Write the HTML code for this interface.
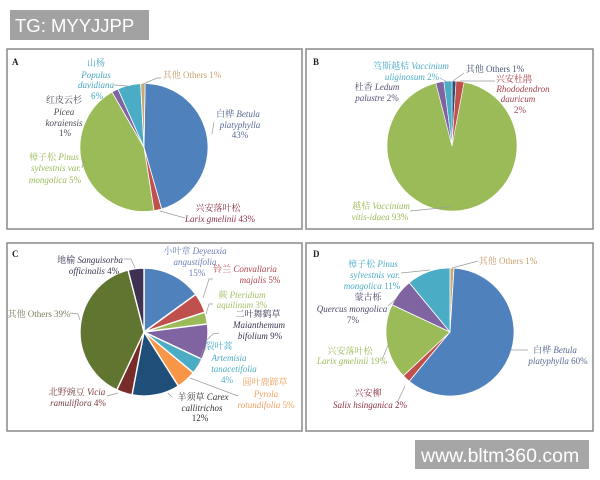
<!DOCTYPE html>
<html><head><meta charset="utf-8"><style>
html,body{margin:0;padding:0;background:#fff;}
svg{display:block;}
text{font-family:"Liberation Serif","Noto Serif CJK SC","Noto Sans CJK SC",serif;font-size:9px;}
.i{font-style:italic;}
.b{font-weight:bold;fill:#222;}
.wm{font-family:"Liberation Sans",sans-serif;fill:#fff;}
</style></head><body>
<svg width="600" height="480" viewBox="0 0 600 480" xmlns="http://www.w3.org/2000/svg">
<rect width="600" height="480" fill="#fff"/>
<!-- watermark top -->
<rect x="10" y="10" width="139" height="30" fill="#a2a2a2"/>
<text class="wm" x="15" y="32" style="font-size:18.5px">TG: MYYJJPP</text>

<!-- panel borders -->
<g fill="none" stroke="#8a8a8a" stroke-width="1.5">
<rect x="7" y="49" width="295" height="180"/>
<rect x="306" y="49" width="287" height="180"/>
<rect x="7" y="243" width="295" height="188"/>
<rect x="306" y="243" width="287" height="188"/>
</g>

<!-- Pie A -->
<g stroke="#fff" stroke-width="0.8">
<path d="M144,147.5 L145.12,83.51 A64,64 0 0 1 161.64,209.02 Z" fill="#4f81bd"/>
<path d="M144,147.5 L161.64,209.02 A64,64 0 0 1 154.01,210.71 Z" fill="#c0504d"/>
<path d="M144,147.5 L154.01,210.71 A64,64 0 0 1 112,92.07 Z" fill="#9bbb59"/>
<path d="M144,147.5 L112,92.07 A64,64 0 0 1 117.97,89.03 Z" fill="#8064a2"/>
<path d="M144,147.5 L117.97,89.03 A64,64 0 0 1 140.65,83.59 Z" fill="#4bacc6"/>
<path d="M144,147.5 L140.65,83.59 A64,64 0 0 1 145.12,83.51 Z" fill="#c9a878"/>
</g>
<g fill="none" stroke="#9a9a9a" stroke-width="0.7">
<polyline points="143,84 157,78 161,78"/>
<polyline points="114,85 128,86"/>
<polyline points="160,211 185,218"/>
<polyline points="82,168 84,160"/>
<polyline points="214,122 212,134"/>
</g>
<text class="b" x="12" y="65">A</text>
<g text-anchor="middle">
<text fill="#46a5c0"><tspan x="96" y="66">山杨</tspan><tspan class="i" x="96" y="78">Populus</tspan><tspan class="i" x="96" y="88">davidiana</tspan><tspan x="97" y="99">6%</tspan></text>
<text fill="#c9a272" x="192" y="78">其他 Others 1%</text>
<text fill="#4a4a58"><tspan x="64" y="103">红皮云杉</tspan><tspan class="i" x="64" y="115">Picea</tspan><tspan class="i" x="64" y="126">koraiensis</tspan><tspan x="65" y="136">1%</tspan></text>
<text fill="#5a6a94"><tspan x="238" y="117">白桦 <tspan class="i">Betula</tspan></tspan><tspan class="i" x="240" y="128">platyphylla</tspan><tspan x="240" y="138">43%</tspan></text>
<text fill="#9bbb59"><tspan x="54" y="160">樟子松 <tspan class="i">Pinus</tspan></tspan><tspan class="i" x="56" y="171">sylvestnis var.</tspan><tspan x="55" y="183"><tspan class="i">mongolica</tspan> 5%</tspan></text>
<text fill="#8c3045"><tspan x="218" y="211">兴安落叶松</tspan><tspan x="220" y="222"><tspan class="i">Larix gmelinii</tspan> 43%</tspan></text>
</g>

<!-- Pie B -->
<g stroke="#fff" stroke-width="0.6">
<path d="M452,146 L452,81 A65,65 0 0 1 456.08,81.13 Z" fill="#2c4d75"/>
<path d="M452,146 L456.08,81.13 A65,65 0 0 1 464.18,82.15 Z" fill="#c0504d"/>
<path d="M452,146 L464.18,82.15 A65,65 0 1 1 435.84,83.04 Z" fill="#9bbb59"/>
<path d="M452,146 L435.84,83.04 A65,65 0 0 1 443.85,81.51 Z" fill="#8064a2"/>
<path d="M452,146 L443.85,81.51 A65,65 0 0 1 452,81 Z" fill="#4bacc6"/>
</g>
<g fill="none" stroke="#9a9a9a" stroke-width="0.7">
<polyline points="440,78 447,82"/>
<polyline points="453,81 464,73"/>
<polyline points="460,81 495,81"/>
<polyline points="410,211 450,207"/>
</g>
<text class="b" x="313" y="65">B</text>
<g text-anchor="middle">
<text fill="#4bacc6"><tspan x="411" y="69">笃斯越桔 <tspan class="i">Vaccinium</tspan></tspan><tspan x="412" y="80"><tspan class="i">uliginosum</tspan> 2%</tspan></text>
<text fill="#4a5a7a" x="495" y="72">其他 Others 1%</text>
<text fill="#a6404e"><tspan x="514" y="82">兴安杜鹃</tspan><tspan class="i" x="523" y="92">Rhododendron</tspan><tspan class="i" x="518" y="102">dauricum</tspan><tspan x="520" y="113">2%</tspan></text>
<text fill="#5a4f78"><tspan x="377" y="90">杜香 <tspan class="i">Ledum</tspan></tspan><tspan x="377" y="101"><tspan class="i">palustre</tspan> 2%</tspan></text>
<text fill="#9bbb59"><tspan x="381" y="209">越桔 <tspan class="i">Vaccinium</tspan></tspan><tspan x="380" y="220"><tspan class="i">vitis-idaea</tspan> 93%</tspan></text>
</g>

<!-- Pie C -->
<g stroke="#fff" stroke-width="1.4">
<path d="M144,332 L144,268 A64,64 0 0 1 195.78,294.38 Z" fill="#4f81bd"/>
<path d="M144,332 L195.78,294.38 A64,64 0 0 1 204.87,312.22 Z" fill="#c0504d"/>
<path d="M144,332 L204.87,312.22 A64,64 0 0 1 207.50,323.98 Z" fill="#9bbb59"/>
<path d="M144,332 L207.50,323.98 A64,64 0 0 1 201.91,359.25 Z" fill="#8064a2"/>
<path d="M144,332 L201.91,359.25 A64,64 0 0 1 193.31,372.79 Z" fill="#4bacc6"/>
<path d="M144,332 L193.31,372.79 A64,64 0 0 1 178.29,386.04 Z" fill="#f79646"/>
<path d="M144,332 L178.29,386.04 A64,64 0 0 1 132.01,394.87 Z" fill="#1f4e79"/>
<path d="M144,332 L132.01,394.87 A64,64 0 0 1 116.75,389.91 Z" fill="#772c2a"/>
<path d="M144,332 L116.75,389.91 A64,64 0 0 1 128.08,270.01 Z" fill="#5f7530"/>
<path d="M144,332 L128.08,270.01 A64,64 0 0 1 144,268 Z" fill="#3f3151"/>
</g>
<g fill="none" stroke="#9a9a9a" stroke-width="0.7">
<polyline points="124,259 131,259 135,268"/>
<polyline points="70,313 78,314 80,320"/>
<polyline points="107,396 118,393"/>
<polyline points="203,298 209,279 213,279"/>
<polyline points="206,314 209,304 213,304"/>
<polyline points="207,340 213,334 219,333"/>
<polyline points="198,365 203,350 206,349"/>
<polyline points="190,378 238,396"/>
<polyline points="168,393 172,397"/>
</g>
<text class="b" x="12" y="257">C</text>
<g text-anchor="middle">
<text fill="#3c3550"><tspan x="90" y="263">地榆 <tspan class="i">Sanguisorba</tspan></tspan><tspan x="94" y="274"><tspan class="i">officinalis</tspan> 4%</tspan></text>
<text fill="#6b7fb5"><tspan x="195" y="254">小叶章 <tspan class="i">Deyeuxia</tspan></tspan><tspan class="i" x="195" y="265">angustifolia</tspan><tspan x="197" y="276">15%</tspan></text>
<text fill="#b0454f"><tspan x="245" y="272">铃兰 <tspan class="i">Convallaria</tspan></tspan><tspan x="260" y="283"><tspan class="i">majalis</tspan> 5%</tspan></text>
<text fill="#a5c068"><tspan x="242" y="298">蕨 <tspan class="i">Pteridium</tspan></tspan><tspan x="242" y="308"><tspan class="i">aquilinum</tspan> 3%</tspan></text>
<text fill="#3a3550"><tspan x="258" y="317">二叶舞鹤草</tspan><tspan class="i" x="259" y="328">Maianthemum</tspan><tspan x="260" y="339"><tspan class="i">bifolium</tspan> 9%</tspan></text>
<text fill="#4bacc6"><tspan x="219" y="349">裂叶蒿</tspan><tspan class="i" x="229" y="361">Artemisia</tspan><tspan class="i" x="234" y="372">tanacetifolia</tspan><tspan x="227" y="383">4%</tspan></text>
<text fill="#f0a060"><tspan x="265" y="385">圆叶鹿蹄草</tspan><tspan class="i" x="266" y="397">Pyrola</tspan><tspan x="266" y="408"><tspan class="i">rotundifolia</tspan> 5%</tspan></text>
<text fill="#333"><tspan x="203" y="400">羊须草 <tspan class="i">Carex</tspan></tspan><tspan class="i" x="202" y="411">callitrichos</tspan><tspan x="200" y="421">12%</tspan></text>
<text fill="#7a3a40"><tspan x="77" y="395">北野豌豆 <tspan class="i">Vicia</tspan></tspan><tspan x="78" y="406"><tspan class="i">ramuliflora</tspan> 4%</tspan></text>
<text fill="#7a8060" x="39" y="317">其他 Others 39%</text>
</g>

<!-- Pie D -->
<g stroke="#fff" stroke-width="0.8">
<path d="M450,332 L450,268 A64,64 0 0 1 454.02,268.13 Z" fill="#c9a878"/>
<path d="M450,332 L454.02,268.13 A64,64 0 1 1 409.21,381.31 Z" fill="#4f81bd"/>
<path d="M450,332 L409.21,381.31 A64,64 0 0 1 403.35,375.81 Z" fill="#c0504d"/>
<path d="M450,332 L403.35,375.81 A64,64 0 0 1 392.09,304.75 Z" fill="#9bbb59"/>
<path d="M450,332 L392.09,304.75 A64,64 0 0 1 409.21,282.69 Z" fill="#8064a2"/>
<path d="M450,332 L409.21,282.69 A64,64 0 0 1 450,268 Z" fill="#4bacc6"/>
</g>
<g fill="none" stroke="#9a9a9a" stroke-width="0.7">
<polyline points="401,273 430,270"/>
<polyline points="452,268 478,261"/>
<polyline points="388,306 396,299"/>
<polyline points="382,360 388,345"/>
<polyline points="511,350 528,350"/>
<polyline points="397,403 405,386"/>
</g>
<text class="b" x="313" y="257">D</text>
<g text-anchor="middle">
<text fill="#4bacc6"><tspan x="373" y="267">樟子松 <tspan class="i">Pinus</tspan></tspan><tspan class="i" x="375" y="278">sylvestnis var.</tspan><tspan x="372" y="289"><tspan class="i">mongolica</tspan> 11%</tspan></text>
<text fill="#c9a272" x="508" y="264">其他 Others 1%</text>
<text fill="#4f4a6a"><tspan x="368" y="300">蒙古栎</tspan><tspan class="i" x="352" y="312">Quercus mongolica</tspan><tspan x="353" y="323">7%</tspan></text>
<text fill="#9bbb59"><tspan x="350" y="354">兴安落叶松</tspan><tspan x="352" y="364"><tspan class="i">Larix gmelinii</tspan> 19%</tspan></text>
<text fill="#5a6a94"><tspan x="555" y="353">白桦 <tspan class="i">Betula</tspan></tspan><tspan x="558" y="364"><tspan class="i">platyphylla</tspan> 60%</tspan></text>
<text fill="#8c3045"><tspan x="368" y="396">兴安柳</tspan><tspan x="370" y="408"><tspan class="i">Salix hsinganica</tspan> 2%</tspan></text>
</g>

<!-- watermark bottom -->
<rect x="415" y="440" width="174" height="29" fill="#a6a6a6"/>
<text class="wm" x="421" y="462" style="font-size:19.5px">www.bltm360.com</text>
</svg>
</body></html>
